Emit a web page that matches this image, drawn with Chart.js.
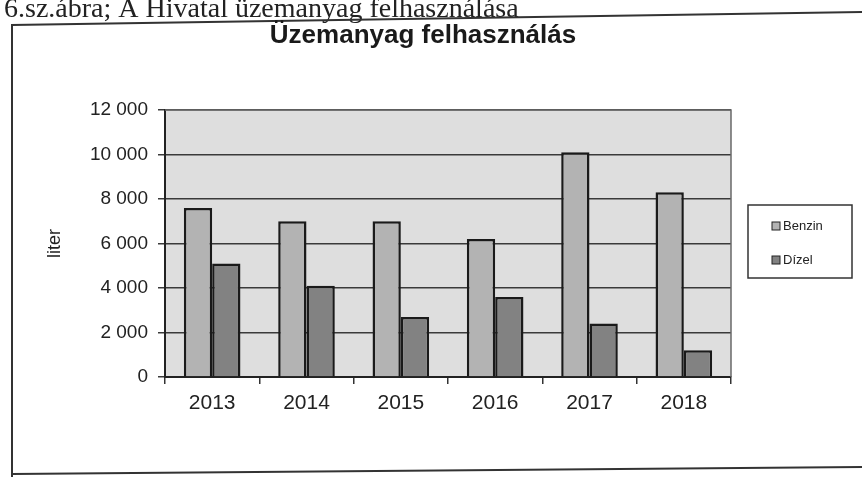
<!DOCTYPE html>
<html>
<head>
<meta charset="utf-8">
<script src="https://cdn.jsdelivr.net/npm/chart.js@4/dist/chart.umd.min.js"></script>
<style>
html,body{margin:0;padding:0;background:#fff;}
#wrap{position:relative;width:862px;height:477px;overflow:hidden;}
canvas{display:block;}
</style>
</head>
<body>
<div id="wrap"><canvas id="c" width="862" height="477"></canvas></div>
<script>
const caption = "6.sz.ábra; A Hivatal üzemanyag felhasználása";
const chartTitle = "Üzemanyag felhasználás";
const yTitle = "liter";
const years = ["2013", "2014", "2015", "2016", "2017", "2018"];
const seriesNames = ["Benzin", "Dízel"];
const benzin = [7600, 7000, 7000, 6200, 10100, 8300];
const dizel = [5100, 4100, 2700, 3600, 2400, 1200];
const yMin = 0, yMax = 12000, yStep = 2000;

const colors = ["#b3b3b3", "#828282"];

const decor = {
  id: 'decor',
  beforeDraw(chart) {
    const {ctx, chartArea: a} = chart;
    ctx.save();
    ctx.fillStyle = '#dedede';
    ctx.fillRect(a.left, a.top, a.right - a.left, a.bottom - a.top);
    ctx.restore();
  },
  afterDatasetsDraw(chart) {
    const {ctx, chartArea: a} = chart;
    ctx.save();
    ctx.strokeStyle = '#6a6a6a';
    ctx.lineWidth = 1.5;
    ctx.beginPath();
    ctx.moveTo(a.left, a.top);
    ctx.lineTo(a.right, a.top);
    ctx.lineTo(a.right, a.bottom);
    ctx.stroke();
    ctx.restore();
  },
  afterDraw(chart) {
    const ctx = chart.ctx;
    ctx.save();
    // caption
    ctx.fillStyle = '#222';
    ctx.font = '28px "Liberation Serif", "Times New Roman", serif';
    ctx.textBaseline = 'alphabetic';
    ctx.textAlign = 'left';
    ctx.fillText(caption, 4, 17);
    // frame
    ctx.strokeStyle = '#333';
    ctx.lineWidth = 2;
    ctx.beginPath();
    ctx.moveTo(12, 477);
    ctx.lineTo(12, 25);
    ctx.lineTo(862, 12);
    ctx.moveTo(12, 474);
    ctx.lineTo(862, 467);
    ctx.stroke();
    // chart title
    ctx.fillStyle = '#1a1a1a';
    ctx.font = 'bold 26px "Liberation Sans", Arial, sans-serif';
    ctx.textAlign = 'center';
    ctx.textBaseline = 'middle';
    ctx.fillText(chartTitle, 423, 36);
    // legend
    const lx = 748, ly = 205, lw = 104, lh = 73;
    ctx.fillStyle = '#fff';
    ctx.fillRect(lx, ly, lw, lh);
    ctx.strokeStyle = '#333';
    ctx.lineWidth = 1.5;
    ctx.strokeRect(lx, ly, lw, lh);
    ctx.font = '13px "Liberation Sans", Arial, sans-serif';
    ctx.textAlign = 'left';
    chart.data.datasets.forEach((ds, i) => {
      const y = 226 + i * 34;
      ctx.fillStyle = ds.backgroundColor;
      ctx.fillRect(772, y - 4, 8, 8);
      ctx.strokeStyle = '#222';
      ctx.lineWidth = 1;
      ctx.strokeRect(772, y - 4, 8, 8);
      ctx.fillStyle = '#222';
      ctx.fillText(ds.label, 783, y);
    });
    ctx.restore();
  }
};

new Chart(document.getElementById('c'), {
  type: 'bar',
  data: {
    labels: years,
    datasets: [
      {label: seriesNames[0], data: benzin, backgroundColor: colors[0], borderColor: '#1a1a1a', borderWidth: 2.5, borderSkipped: 'bottom'},
      {label: seriesNames[1], data: dizel, backgroundColor: colors[1], borderColor: '#1a1a1a', borderWidth: 2.5, borderSkipped: 'bottom'}
    ]
  },
  options: {
    responsive: false,
    animation: false,
    devicePixelRatio: 1,
    layout: {padding: {left: 40, right: 131, top: 110, bottom: 60}},
    datasets: {bar: {categoryPercentage: 0.6, barPercentage: 1.0}},
    plugins: {legend: {display: false}, title: {display: false}, tooltip: {enabled: false}},
    scales: {
      x: {
        grid: {display: true, drawOnChartArea: false, drawTicks: true, tickLength: 7, color: '#333', lineWidth: 1.5, offset: true},
        border: {display: true, color: '#222', width: 2},
        ticks: {color: '#222', padding: 7, font: {family: '"Liberation Sans", Arial, sans-serif', size: 21}},
        afterFit(s) { s.height = 40; }
      },
      y: {
        min: yMin, max: yMax,
        grid: {color: '#3a3a3a', lineWidth: 1.5, tickLength: 7, drawTicks: true},
        border: {display: true, color: '#222', width: 2},
        ticks: {
          stepSize: yStep, color: '#222', padding: 10,
          font: {family: '"Liberation Sans", Arial, sans-serif', size: 19},
          callback: v => String(v).replace(/\B(?=(\d{3})+(?!\d))/g, ' ')
        },
        title: {display: true, text: yTitle, color: '#222', font: {family: '"Liberation Sans", Arial, sans-serif', size: 18}},
        afterFit(s) { s.width = 125; }
      }
    }
  },
  plugins: [decor]
});
</script>
</body>
</html>
